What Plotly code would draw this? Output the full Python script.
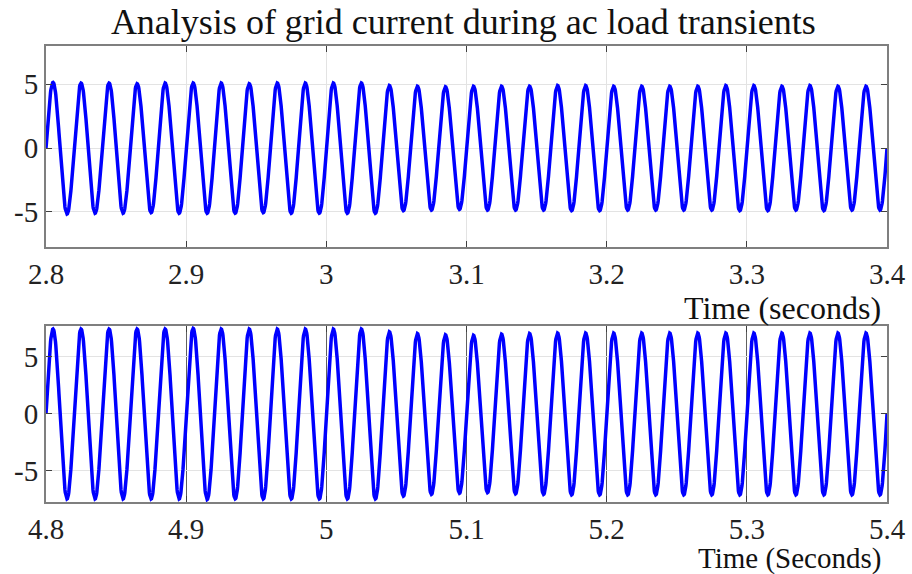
import numpy as np
import plotly.graph_objects as go
from plotly.subplots import make_subplots

# ---- data ----
freq_hz = 50.0
t1_start, t1_end = 2.8, 3.4
t2_start, t2_end = 4.8, 5.4
# peak amplitude of each of the 30 cycles (A)
top_peaks = [5.15, 5.1, 5.1, 5.05, 5.1, 5.1, 5.1, 5.05, 5.1, 5.1,
             5.1, 5.1, 4.9, 4.85, 4.8, 4.85, 4.85, 4.85, 4.9, 4.9,
             4.85, 4.85, 4.85, 4.85, 4.9, 4.9, 4.85, 4.9, 4.85, 4.85]
bottom_peaks = [7.45, 7.45, 7.45, 7.45, 7.45, 7.5, 7.45, 7.45, 7.45, 7.45,
                7.45, 7.45, 7.2, 7.05, 6.95, 6.9, 7.0, 7.05, 7.1, 7.1,
                7.1, 7.1, 7.1, 7.1, 7.1, 7.1, 7.1, 7.1, 7.1, 7.1]
x_ticks_top = [2.8, 2.9, 3.0, 3.1, 3.2, 3.3, 3.4]
x_ticks_bot = [4.8, 4.9, 5.0, 5.1, 5.2, 5.3, 5.4]
x_ticktext_top = ["2.8", "2.9", "3", "3.1", "3.2", "3.3", "3.4"]
x_ticktext_bot = ["4.8", "4.9", "5", "5.1", "5.2", "5.3", "5.4"]
y_ticks = [-5, 0, 5]
title_text = "Analysis of grid current during ac load transients"
xlabel_top = "Time (seconds)"
xlabel_bot = "Time (Seconds)"


def waveform(t0, peaks, pts_per_cycle=80):
    period = 1.0 / freq_hz
    ts, ys = [], []
    for k, a in enumerate(peaks):
        tt = t0 + period * (k + np.arange(pts_per_cycle) / pts_per_cycle)
        ts.append(tt)
        ys.append(a * np.sin(2 * np.pi * freq_hz * (tt - t0)))
    tend = t0 + period * len(peaks)
    ts.append([tend]); ys.append([0.0])
    return np.concatenate(ts), np.concatenate(ys)


tx1, y1 = waveform(t1_start, top_peaks)
tx2, y2 = waveform(t2_start, bottom_peaks)

fig = make_subplots(rows=2, cols=1)
fig.add_trace(go.Scatter(x=tx1, y=y1, mode="lines",
                         line=dict(color="#0000ff", width=3.5)), row=1, col=1)
fig.add_trace(go.Scatter(x=tx2, y=y2, mode="lines",
                         line=dict(color="#0000ff", width=3.5)), row=2, col=1)

FONT = "Liberation Serif"
frame = "#7f7f7f"
TICKSIZE = 29
common_x = dict(showline=True, linecolor=frame, linewidth=2, mirror="ticks",
                ticks="inside", ticklen=6, tickcolor="#404040", automargin=False,
                tickfont=dict(family=FONT, size=TICKSIZE, color="#222"),
                zeroline=False)
common_y = dict(showline=True, linecolor=frame, linewidth=2, mirror="ticks",
                ticks="inside", ticklen=6, tickcolor="#404040", automargin=False,
                tickfont=dict(family=FONT, size=TICKSIZE, color="#222"),
                zeroline=False, gridcolor="#e3e3e3", gridwidth=1,
                tickvals=y_ticks, ticktext=[str(v) for v in y_ticks])

fig.update_xaxes(common_x, row=1, col=1, range=[t1_start, t1_end],
                 tickvals=x_ticks_top, ticktext=x_ticktext_top,
                 gridcolor="#e3e3e3", domain=[0, 1])
fig.update_xaxes(common_x, row=2, col=1, range=[t2_start, t2_end],
                 tickvals=x_ticks_bot, ticktext=x_ticktext_bot,
                 gridcolor="#606060", domain=[0, 1])
fig.update_yaxes(common_y, row=1, col=1, range=[-7.75, 8.0], domain=[0.559, 1.0])
fig.update_yaxes(common_y, row=2, col=1, range=[-7.72, 7.72], domain=[0.0, 0.386])

fig.update_layout(
    width=912, height=574,
    margin=dict(l=46, r=25, t=46, b=72),
    plot_bgcolor="white", paper_bgcolor="white",
    showlegend=False,
    title=dict(text=title_text, x=0.508, xanchor="center", y=0.962, yanchor="middle",
               font=dict(family=FONT, size=36, color="#111")),
    annotations=[
        dict(text=xlabel_top, xref="paper", yref="paper", x=1.0, y=0.559,
             xanchor="right", yanchor="top", yshift=-41, xshift=-4, showarrow=False,
             font=dict(family=FONT, size=32, color="#111")),
        dict(text=xlabel_bot, xref="paper", yref="paper", x=1.0, y=0.0,
             xanchor="right", yanchor="top", yshift=-38, xshift=-4, showarrow=False,
             font=dict(family=FONT, size=29, color="#111")),
    ],
)

fig.write_html("out.html")
